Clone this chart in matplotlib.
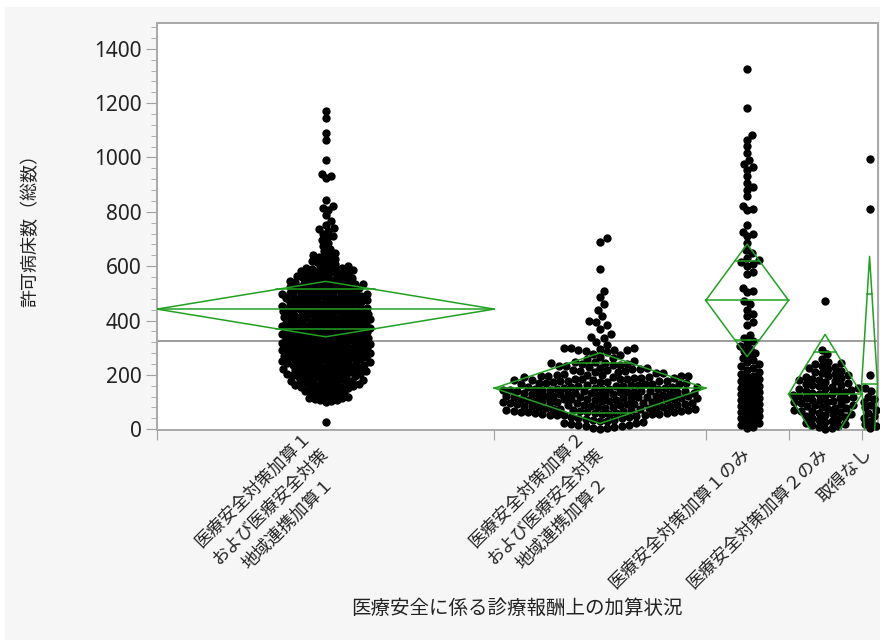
import numpy as np
import matplotlib
matplotlib.use("Agg")
import matplotlib.pyplot as plt
from matplotlib.patches import Rectangle
from matplotlib.ticker import MultipleLocator

plt.rcParams['font.family'] = ['Noto Sans CJK JP', 'DejaVu Sans']

# データ（図から読み取った推定値）
categories = [
    "医療安全対策加算１\nおよび医療安全対策\n地域連携加算１",
    "医療安全対策加算２\nおよび医療安全対策\n地域連携加算２",
    "医療安全対策加算１のみ",
    "医療安全対策加算２のみ",
    "取得なし",
]

bin_width = 50

# 加算１＋地域連携加算１
g1_bin_start = [100, 150, 200, 250, 300, 350, 400, 450, 500, 550, 600, 650]
g1_bin_count = [20, 30, 37, 41, 41, 41, 40, 37, 33, 24, 12, 5]
g1_extra = [1170, 1145, 1090, 1065, 990, 940, 932, 925, 845, 822, 815, 808,
            790, 765, 752, 740, 735, 728, 720, 712, 705, 28]

# 加算２＋地域連携加算２
g2_bin_start = [0, 50, 100, 150, 200, 250]
g2_bin_count = [22, 55, 60, 46, 25, 10]
g2_extra = [704, 690, 590, 510, 485, 460, 440, 415, 400, 395, 385, 370,
            350, 340, 335, 320, 310, 300, 300, 295, 290, 290]

# 加算１のみ
g3_bin_start = [0, 50, 100, 150, 200, 250, 300]
g3_bin_count = [8, 9, 9, 8, 7, 6, 5]
g3_extra = [1326, 1183, 1084, 1066, 1041, 1017, 992, 975, 965, 955, 931, 905,
            890, 880, 857, 820, 812, 805, 753, 725, 718, 710, 686, 660, 648,
            630, 622, 615, 608, 602, 580, 570, 520, 510, 505, 470, 460, 440,
            425, 415, 395, 385]

# 加算２のみ
g4_bin_start = [0, 50, 100, 150, 200, 250]
g4_bin_count = [14, 18, 20, 16, 11, 3]
g4_extra = [470]

# 取得なし
g5_values = [995, 810, 200, 150, 140, 120, 110, 100, 90, 80, 70, 60, 50, 40,
             30, 20, 10, 5]

# 平均と95%信頼区間（ひし形）
group_means = [442, 151, 474, 129, 166]
group_ci = [102, 130, 207, 220, 470]
grand_mean = 323

swarm_cap = [44, 98, 13, 34, 6]
swarm_gap = [5.5, 7.2, 6.0, 6.5, 6.0]


def expand(starts, counts, extra):
    vals = list(extra)
    for s, c in zip(starts, counts):
        vals += list(s + (np.arange(c) + 0.5) * bin_width / c)
    return np.array(vals, dtype=float)


groups = [
    expand(g1_bin_start, g1_bin_count, g1_extra),
    expand(g2_bin_start, g2_bin_count, g2_extra),
    expand(g3_bin_start, g3_bin_count, g3_extra),
    expand(g4_bin_start, g4_bin_count, g4_extra),
    np.array(g5_values, dtype=float),
]

n = np.array([len(g) for g in groups])
edges = np.concatenate([[0], np.cumsum(n)])
centers = (edges[:-1] + edges[1:]) / 2

W, H = 880, 642
fig = plt.figure(figsize=(W / 100, H / 100), dpi=100)
fig.patches.append(Rectangle((5 / W, 2 / H), 875 / W, 633 / H,
                             transform=fig.transFigure, facecolor='#f6f6f6',
                             edgecolor='none', zorder=-10))

ax_l, ax_b, ax_w, ax_h = 157, 212, 720.5, 407
ax = fig.add_axes([ax_l / W, ax_b / H, ax_w / W, ax_h / H])
ymin, ymax = -3, 1495
ax.set_xlim(0, edges[-1])
ax.set_ylim(ymin, ymax)

py = ax_h / (ymax - ymin)      # px per y unit
px = ax_w / edges[-1]          # px per x unit


def swarm(vals, cap, d):
    ys = np.sort(vals) * py
    step = d / 4
    k = int(cap // step)
    cand = np.array([0.0] + [s * i * step for i in range(1, k + 1) for s in (1, -1)])
    xs, yy = [], []
    for y in ys:
        m = None
        if xs:
            ax_ = np.array(xs)
            ay_ = np.array(yy)
            m = np.abs(ay_ - y) < d
        if m is not None and m.any():
            dx = cand[:, None] - ax_[m][None, :]
            dy = y - ay_[m]
            dist = np.sqrt(dx ** 2 + dy[None, :] ** 2).min(axis=1)
            ok = np.nonzero(dist >= d)[0]
            i = ok[0] if len(ok) else int(np.argmax(dist))
            x = cand[i]
        else:
            x = 0.0
        xs.append(x)
        yy.append(y)
    return np.array(xs) / px, ys / py


for i, g in enumerate(groups):
    dx, yv = swarm(g, swarm_cap[i], swarm_gap[i])
    ax.scatter(centers[i] + dx, yv, s=36, color='black', linewidths=0,
               zorder=3, clip_on=False)

# 全体平均
ax.axhline(grand_mean, color='#8c8c8c', lw=1.2, zorder=2)

# 平均ひし形
green = '#22a022'
for i in range(len(groups)):
    l, r, c = edges[i], edges[i + 1], centers[i]
    m, ci = group_means[i], group_ci[i]
    ax.plot([l, c, r, c, l], [m, m + ci, m, m - ci, m], color=green, lw=1.1, zorder=4)
    ax.plot([l, r], [m, m], color=green, lw=1.1, zorder=4)
    ov = ci / np.sqrt(2)
    hw = (r - l) / 2 * (1 - 1 / np.sqrt(2))
    for yv in (m + ov, m - ov):
        ax.plot([c - hw, c + hw], [yv, yv], color=green, lw=1.1, zorder=4)

# 軸
for sp in ax.spines.values():
    sp.set_color('#a8a8a8')
    sp.set_linewidth(1.4)

ax.set_yticks(np.arange(0, 1401, 200))
ax.yaxis.set_minor_locator(MultipleLocator(40))
ax.tick_params(axis='y', which='major', length=8, color='#a0a0a0',
               labelsize=15, labelcolor='#222222', pad=3)
ax.tick_params(axis='y', which='minor', length=4, color='#a0a0a0')
for t in ax.get_yticklabels():
    t.set_fontfamily(['Noto Sans', 'DejaVu Sans'])

ax.set_xticks(edges[:-1])
ax.set_xticklabels([])
ax.set_xticks(centers, minor=True)
ax.set_xticklabels(categories, minor=True, rotation=45, ha='right',
                   va='center', rotation_mode='anchor', fontsize=12.5,
                   color='#222222', multialignment='center', linespacing=1.45)
ax.tick_params(axis='x', which='major', length=7, color='#a0a0a0')
ax.tick_params(axis='x', which='minor', length=0, pad=15)

fig.text(30 / W, 1 - 226 / H, "許可病床数（総数）", rotation=90, ha='center',
         va='center', fontsize=13, color='#222222')
fig.text(517 / W, 1 - 608 / H, "医療安全に係る診療報酬上の加算状況",
         ha='center', va='center', fontsize=14, color='#222222')

fig.savefig('out.png', dpi=100)
